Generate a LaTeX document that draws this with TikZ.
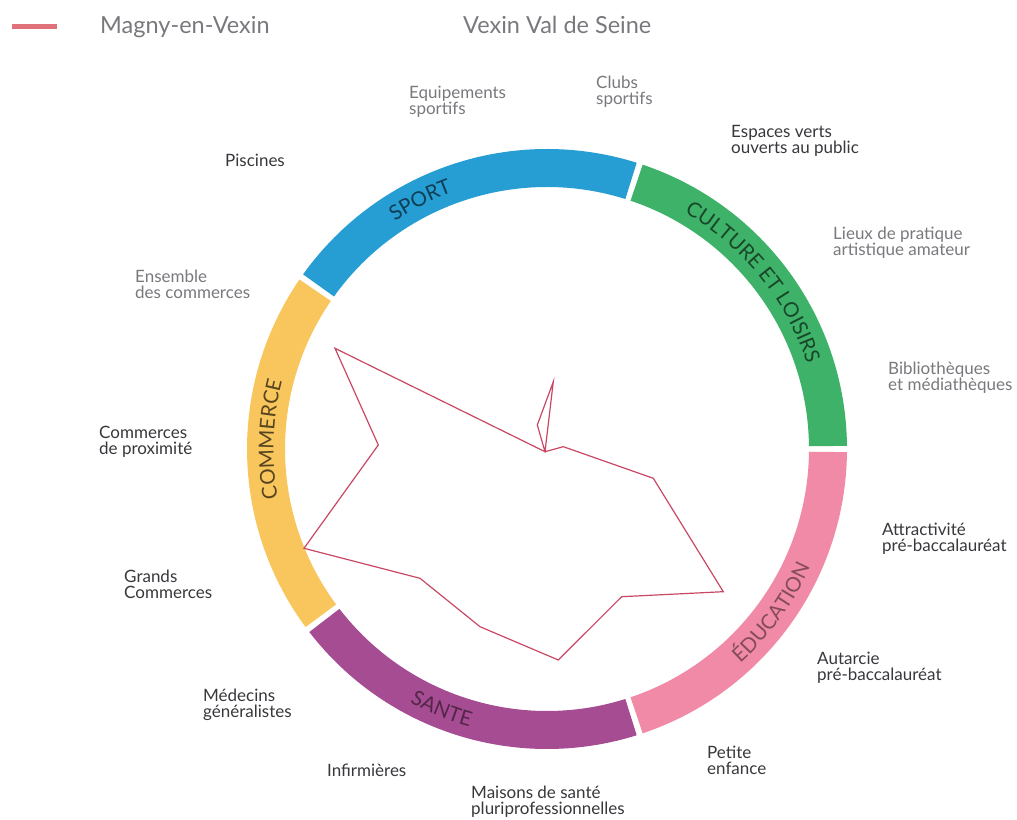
\documentclass[tikz,border=0pt]{standalone}
\usepackage{fontspec}
\setmainfont{Lato}
\usetikzlibrary{decorations.text}
\definecolor{cult}{RGB}{62,178,104}
\definecolor{sport}{RGB}{38,157,211}
\definecolor{comm}{RGB}{248,198,92}
\definecolor{sante}{RGB}{166,76,146}
\definecolor{educ}{RGB}{240,138,166}
\definecolor{labdark}{RGB}{55,55,60}
\definecolor{labgrey}{RGB}{120,120,125}
\definecolor{polyc}{RGB}{200,72,100}
\definecolor{legc}{RGB}{224,112,122}
\newcommand{\labfont}{\fontsize{17}{16}\selectfont\lineskiplimit=-20pt}
\newcommand{\ringfont}{\fontsize{20.5}{20.5}\selectfont}
\begin{document}
\begin{tikzpicture}[x=1pt,y=1pt,
  lab/.style={anchor=base west, inner sep=0pt, align=left, font=\labfont},
  dk/.style={lab, text=labdark},
  lt/.style={lab, text=labgrey},
  leg/.style={anchor=base west, inner sep=0pt, text=labgrey, font=\fontsize{23.5}{23.5}\selectfont},
  ringtext/.style={decorate, decoration={text along path, text align=center, text color=#1}}]
\path[use as bounding box] (0,0) rectangle (1017,819);

% legend
\coordinate (l1) at (12,792);
\coordinate (l2) at (57,792);
\draw[legc, line width=5pt] (l1) -- (l2);
\node[leg] (legA) at (100,785) {Magny-en-Vexin};
\node[leg] (legB) at (463,785) {Vexin Val de Seine};

% ring
\begin{scope}[shift={(547,370)}]
\fill[cult] (0.6:300) arc[start angle=0.6,end angle=71.4,radius=300] -- (71.4:262) arc[start angle=71.4,end angle=0.6,radius=262] -- cycle;
\fill[sport] (72.6:300) arc[start angle=72.6,end angle=144.4,radius=300] -- (144.4:262) arc[start angle=144.4,end angle=72.6,radius=262] -- cycle;
\fill[comm] (145.6:300) arc[start angle=145.6,end angle=216.4,radius=300] -- (216.4:262) arc[start angle=216.4,end angle=145.6,radius=262] -- cycle;
\fill[sante] (217.6:300) arc[start angle=217.6,end angle=287.4,radius=300] -- (287.4:262) arc[start angle=287.4,end angle=217.6,radius=262] -- cycle;
\fill[educ] (288.6:300) arc[start angle=288.6,end angle=359.4,radius=300] -- (359.4:262) arc[start angle=359.4,end angle=288.6,radius=262] -- cycle;

\path[ringtext=sport!40!black, decoration={text={|\ringfont|SPORT}}] (150:273.5) arc[start angle=150,end angle=84,radius=273.5];
\path[ringtext=cult!40!black, decoration={text={|\ringfont|CULTURE ET LOISIRS}}] (78:273.5) arc[start angle=78,end angle=0,radius=273.5];
\path[ringtext=comm!35!black, decoration={text={|\ringfont|COMMERCE}}] (214:273.5) arc[start angle=214,end angle=142,radius=273.5];
\path[ringtext=sante!50!black, decoration={text={|\ringfont|SANTE}}] (220:288.5) arc[start angle=220,end angle=276,radius=288.5];
\path[ringtext=educ!55!black, decoration={text={|\ringfont|ÉDUCATION}}] (290:288.5) arc[start angle=290,end angle=358,radius=288.5];
\end{scope}

% radar polygon
\coordinate (v1) at (335,470.7);
\coordinate (v2) at (378.3,374);
\coordinate (v3) at (304,270.7);
\coordinate (v4) at (420,240.7);
\coordinate (v5) at (480,192.3);
\coordinate (v6) at (558.3,159);
\coordinate (v7) at (621.7,222.3);
\coordinate (v8) at (723.3,227.3);
\coordinate (v9) at (653.3,340.7);
\coordinate (v10) at (563.3,372.3);
\coordinate (v11) at (545,367.3);
\coordinate (v13) at (553.3,437.3);
\coordinate (v14) at (537.3,394);
\draw[polyc, line width=1.2pt, line join=miter] (v1) -- (v2) -- (v3) -- (v4) -- (v5) -- (v6) -- (v7) -- (v8) -- (v9) -- (v10) -- (v11) -- (v13) -- (v14) -- (v11) -- cycle;

% labels (multi-line nodes: base = last line)
\node[dk] (piscines) at (225,652) {Piscines};
\node[lt] (equip) at (409,704) {Equipements\\sportifs};
\node[lt] (clubs) at (596,714) {Clubs\\sportifs};
\node[dk] (espaces) at (731,665) {Espaces verts\\ouverts au public};
\node[lt] (lieux) at (833,563) {Lieux de pratique\\artistique amateur};
\node[lt] (biblio) at (888,428) {Bibliothèques\\et médiathèques};
\node[dk] (attract) at (882,267) {Attractivité\\pré-baccalauréat};
\node[dk] (autarcie) at (817,138) {Autarcie\\pré-baccalauréat};
\node[dk] (petite) at (707,45) {Petite\\enfance};
\node[dk] (maisons) at (471,5) {Maisons de santé\\pluriprofessionnelles};
\node[dk] (infirm) at (327,42) {Infirmières};
\node[dk] (medecins) at (203,101) {Médecins\\généralistes};
\node[dk] (grands) at (124,220) {Grands\\Commerces};
\node[dk] (proxi) at (99,364) {Commerces\\de proximité};
\node[lt] (ensemble) at (135,520) {Ensemble\\des commerces};
\end{tikzpicture}
\end{document}
